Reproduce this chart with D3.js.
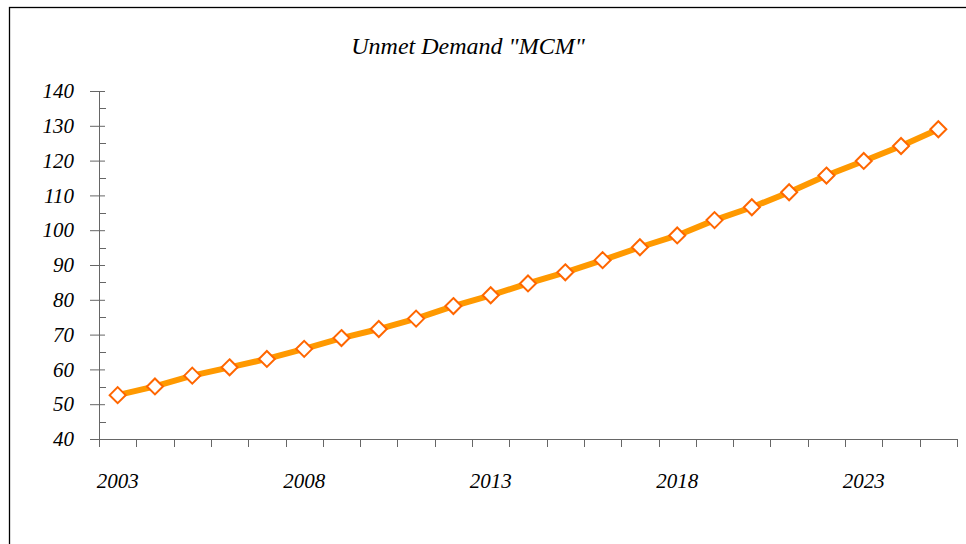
<!DOCTYPE html>
<html><head><meta charset="utf-8">
<script src="https://cdn.jsdelivr.net/npm/d3@7"></script>
<style>body{margin:0;background:#fff}svg{display:block}</style>
</head><body>
<script>
const years = d3.range(2003, 2026).map(String);
const demand = [52.6,55.1,58.2,60.6,63.0,65.9,69.0,71.6,74.6,78.2,81.3,84.7,87.9,91.4,95.1,98.5,102.9,106.6,110.9,115.7,119.9,124.2,129.0];
const yTicks = [40,50,60,70,80,90,100,110,120,130,140];
const xLabels = ["2003","2008","2013","2018","2023"];

const W=966,H=544;
const svg=d3.select("body").append("svg").attr("width",W).attr("height",H);
svg.append("rect").attr("x",9.5).attr("y",7.5).attr("width",W+20).attr("height",H+20)
  .attr("fill","none").attr("stroke","#000").attr("stroke-width",1.3);

const x=d3.scaleBand().domain(years).range([99,957]);
const y=d3.scaleLinear().domain([40,140]).range([439,91]);
const axisColor="#666";
const tickFont="'Liberation Serif',serif";

svg.append("text").attr("x",468).attr("y",54).attr("text-anchor","middle")
  .style("font-family","'Liberation Serif',serif").style("font-style","italic")
  .style("font-size","24px").text('Unmet Demand "MCM"');

// y axis
const gy=svg.append("g").attr("transform","translate(99,0)");
gy.call(d3.axisLeft(y).tickValues(yTicks).tickSize(9).tickPadding(16).tickFormat(d3.format("d")));
gy.selectAll(".tick line").attr("x2",-9).attr("x1",6);
gy.append("g").selectAll("line").data(d3.range(45,140,10)).join("line")
  .attr("x1",0).attr("x2",7).attr("y1",d=>Math.round(y(d))+0.5).attr("y2",d=>Math.round(y(d))+0.5).attr("stroke",axisColor);
gy.select(".domain").attr("d",`M0.5,${y(140)}V447`);

// x axis
const gx=svg.append("g").attr("transform","translate(0,439)");
gx.call(d3.axisBottom(x).tickValues([]).tickSizeOuter(0));
gx.select(".domain").attr("d","M90,0.5H957");
gx.append("g").selectAll("line").data(years.concat(["end"])).join("line")
  .attr("x1",(d,i)=>Math.round(99+i*x.step())+0.5).attr("x2",(d,i)=>Math.round(99+i*x.step())+0.5)
  .attr("y1",0).attr("y2",8).attr("stroke",axisColor);
gx.append("g").selectAll("text").data(xLabels).join("text")
  .attr("x",d=>x(d)+x.bandwidth()/2).attr("y",49).attr("text-anchor","middle").text(d=>d);

svg.selectAll(".domain").attr("stroke",axisColor);
gy.selectAll(".tick line").attr("stroke",axisColor);
[gx,gy].forEach(g=>g.selectAll("text").attr("fill","#000")
  .style("font-family",tickFont).style("font-style","italic").style("font-size","21px"));

const cx=d=>x(d)+x.bandwidth()/2;
svg.append("path").datum(demand).attr("fill","none").attr("stroke","#FF9900").attr("stroke-width",6)
  .attr("d",d3.line().x((d,i)=>cx(years[i])).y(d=>y(d)));
svg.append("g").selectAll("path").data(demand).join("path")
  .attr("transform",(d,i)=>`translate(${cx(years[i])},${y(d)})`)
  .attr("d","M0,-8L8,0L0,8L-8,0Z").attr("fill","#fff").attr("stroke","#FF6600").attr("stroke-width",2);
</script>
</body></html>
